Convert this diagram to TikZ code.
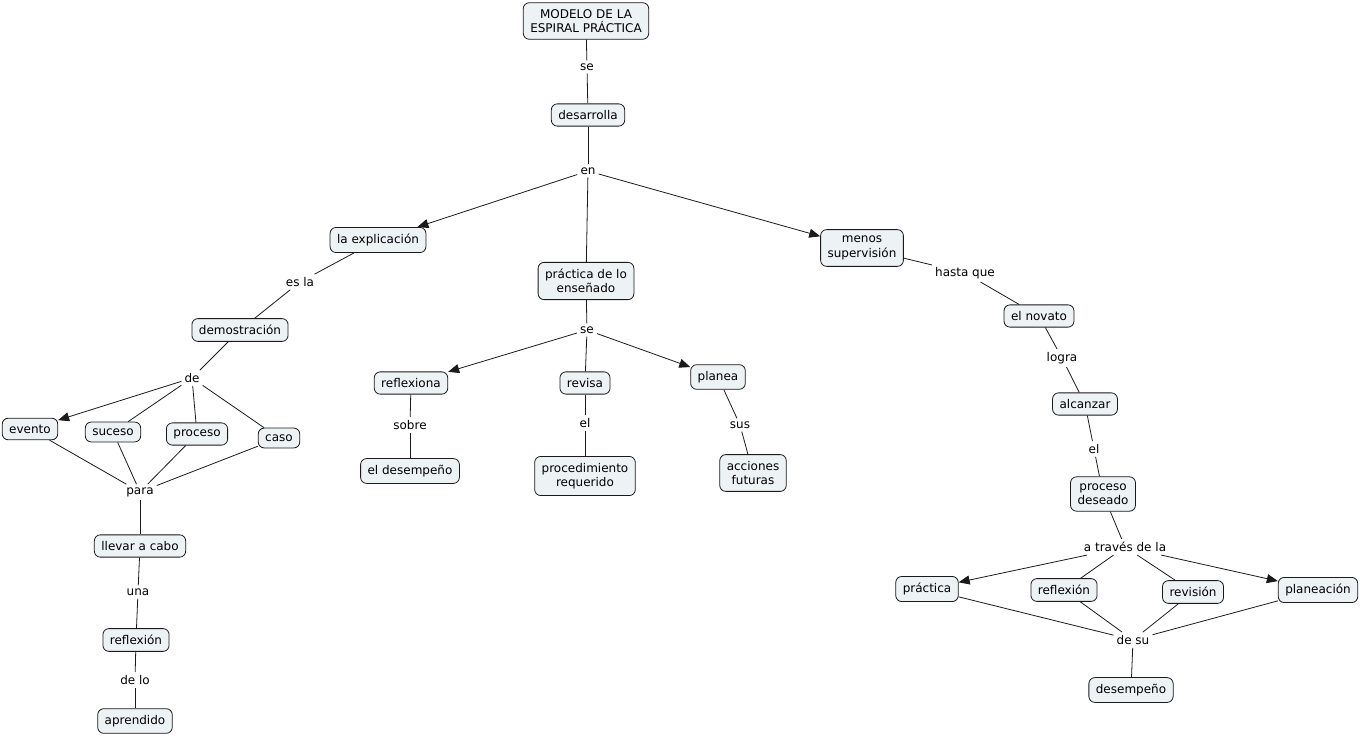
\documentclass[tikz,border=0pt]{standalone}
\usepackage{fontspec}
\setmainfont{DejaVu Sans}
\usetikzlibrary{arrows.meta}
\definecolor{cfill}{HTML}{EDF2F4}
\definecolor{cline}{HTML}{1A1A1A}
\tikzset{
  concept/.style={draw=cline, fill=cfill, rounded corners=6pt, line width=0.8pt,
    font=\fontsize{12}{14.5}\selectfont, inner xsep=7pt, inner ysep=6.5pt, align=center},
  lbl/.style={inner sep=3pt, font=\fontsize{12}{14.5}\selectfont},
  conn/.style={draw=cline, line width=0.8pt},
  arr/.style={conn, -{Triangle[length=11pt,width=9pt]}}
}
\begin{document}
\begin{tikzpicture}[x=1pt,y=-1pt]
\useasboundingbox (0,0) rectangle (1360,738);
% concepts
\node[concept] (modelo) at (586,21) {MODELO DE LA\\ESPIRAL PRÁCTICA};
\node[concept] (desarrolla) at (588,115) {desarrolla};
\node[concept] (explic) at (378,240) {la explicación};
\node[concept] (practlo) at (586,281) {práctica de lo\\enseñado};
\node[concept] (menos) at (862,248) {menos\\supervisión};
\node[concept] (demo) at (240,330) {demostración};
\node[concept] (evento) at (30,429) {evento};
\node[concept] (suceso) at (113,432) {suceso};
\node[concept] (proceso) at (197,434) {proceso};
\node[concept] (caso) at (279,438) {caso};
\node[concept] (llevar) at (140,546) {llevar a cabo};
\node[concept] (reflex1) at (136,640) {reflexión};
\node[concept] (aprend) at (135,721) {aprendido};
\node[concept] (reflexiona) at (411,383) {reflexiona};
\node[concept] (revisa) at (585,383) {revisa};
\node[concept] (planea) at (718,377) {planea};
\node[concept] (eldes) at (410,471) {el desempeño};
\node[concept] (proced) at (585,476) {procedimiento\\requerido};
\node[concept] (acciones) at (753,473) {acciones\\futuras};
\node[concept] (novato) at (1039,316) {el novato};
\node[concept] (alcanzar) at (1085,404) {alcanzar};
\node[concept] (deseado) at (1103,494) {proceso\\deseado};
\node[concept] (practica) at (927,589) {práctica};
\node[concept] (reflex2) at (1064,590) {reflexión};
\node[concept] (revision) at (1193,592) {revisión};
\node[concept] (planeacion) at (1318,590) {planeación};
\node[concept] (desemp) at (1131,690) {desempeño};
% link labels
\node[lbl] (l_se1) at (587,67) {se};
\node[lbl] (l_en) at (588,171) {en};
\node[lbl] (l_esla) at (300,282) {es la};
\node[lbl] (l_de) at (192,378) {de};
\node[lbl] (l_para) at (140,492) {para};
\node[lbl] (l_una) at (138,592) {una};
\node[lbl] (l_delo) at (135,680) {de lo};
\node[lbl] (l_se2) at (587,330) {se};
\node[lbl] (l_sobre) at (410,425) {sobre};
\node[lbl] (l_el1) at (585,423) {el};
\node[lbl] (l_sus) at (740,425) {sus};
\node[lbl] (l_hasta) at (965,273) {hasta que};
\node[lbl] (l_logra) at (1062,358) {logra};
\node[lbl] (l_el2) at (1094,449) {el};
\node[lbl] (l_traves) at (1125,547) {a través de la};
\node[lbl] (l_desu) at (1133,640) {de su};
% connectors
\draw[conn] (modelo) -- (l_se1);
\draw[conn] (l_se1) -- (desarrolla);
\draw[conn] (desarrolla) -- (l_en);
\draw[arr] (l_en) -- (explic);
\draw[conn] (l_en) -- (practlo);
\draw[arr] (l_en) -- (menos);
\draw[conn] (explic) -- (l_esla);
\draw[conn] (l_esla) -- (demo);
\draw[conn] (demo) -- (l_de);
\draw[arr] (l_de) -- (evento);
\draw[conn] (l_de) -- (suceso);
\draw[conn] (l_de) -- (proceso);
\draw[conn] (l_de) -- (caso);
\draw[conn] (evento) -- (l_para);
\draw[conn] (suceso) -- (l_para);
\draw[conn] (proceso) -- (l_para);
\draw[conn] (caso) -- (l_para);
\draw[conn] (l_para) -- (llevar);
\draw[conn] (llevar) -- (l_una);
\draw[conn] (l_una) -- (reflex1);
\draw[conn] (reflex1) -- (l_delo);
\draw[conn] (l_delo) -- (aprend);
\draw[conn] (practlo) -- (l_se2);
\draw[arr] (l_se2) -- (reflexiona);
\draw[conn] (l_se2) -- (revisa);
\draw[arr] (l_se2) -- (planea);
\draw[conn] (reflexiona) -- (l_sobre);
\draw[conn] (l_sobre) -- (eldes);
\draw[conn] (revisa) -- (l_el1);
\draw[conn] (l_el1) -- (proced);
\draw[conn] (planea) -- (l_sus);
\draw[conn] (l_sus) -- (acciones);
\draw[conn] (menos) -- (l_hasta);
\draw[conn] (l_hasta) -- (novato);
\draw[conn] (novato) -- (l_logra);
\draw[conn] (l_logra) -- (alcanzar);
\draw[conn] (alcanzar) -- (l_el2);
\draw[conn] (l_el2) -- (deseado);
\draw[conn] (deseado) -- (l_traves);
\draw[arr] (l_traves) -- (practica);
\draw[conn] (l_traves) -- (reflex2);
\draw[conn] (l_traves) -- (revision);
\draw[arr] (l_traves) -- (planeacion);
\draw[conn] (practica) -- (l_desu);
\draw[conn] (reflex2) -- (l_desu);
\draw[conn] (revision) -- (l_desu);
\draw[conn] (planeacion) -- (l_desu);
\draw[conn] (l_desu) -- (desemp);
\end{tikzpicture}
\end{document}
